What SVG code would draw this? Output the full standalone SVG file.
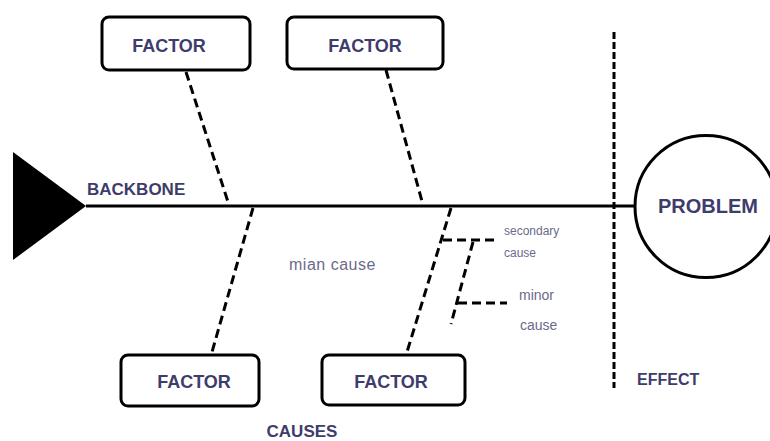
<svg xmlns="http://www.w3.org/2000/svg" width="770" height="441" viewBox="0 0 770 441">
<style>
.box{fill:#fff;stroke:#000;stroke-width:3}
.lbl{font-family:"Liberation Sans",Arial,sans-serif;font-weight:bold;fill:#3e3c6b}
.small{font-family:"Liberation Sans",Arial,sans-serif;fill:#6b6a8c}
.dash{stroke:#000;stroke-width:3;stroke-dasharray:9 5;fill:none}
.vdash{stroke:#000;stroke-width:3;stroke-dasharray:7 3;fill:none}
</style>
<rect width="770" height="441" fill="#fff"/>
<g id="connectors">
<line x1="86" y1="206" x2="637" y2="206" stroke="#000" stroke-width="3"/>
<line class="dash" x1="186" y1="72" x2="229" y2="205"/>
<line class="dash" x1="386" y1="70" x2="423" y2="205"/>
<line class="dash" x1="253" y1="208" x2="212" y2="352"/>
<line class="dash" x1="451" y1="208" x2="407" y2="352"/>
<line class="dash" x1="443" y1="240" x2="494" y2="240"/>
<line class="dash" x1="473" y1="242" x2="451" y2="324"/>
<line class="dash" x1="458" y1="303" x2="507" y2="303"/>
<line class="vdash" x1="614" y1="32" x2="614" y2="388"/>
</g>
<g id="head"><polygon points="13,152 86,206 13,260" fill="#000"/></g>
<g id="problem">
<circle cx="706" cy="206.5" r="71" fill="#fff" stroke="#000" stroke-width="3"/>
<text class="lbl" x="708" y="213" font-size="20" text-anchor="middle">PROBLEM</text>
</g>
<g id="factor1">
<rect class="box" x="102" y="17" width="148" height="53" rx="7"/>
<text class="lbl" x="169" y="52" font-size="18" text-anchor="middle">FACTOR</text>
</g>
<g id="factor2">
<rect class="box" x="287" y="17" width="156" height="52" rx="7"/>
<text class="lbl" x="365" y="52" font-size="18" text-anchor="middle">FACTOR</text>
</g>
<g id="factor3">
<rect class="box" x="121" y="355" width="138" height="51" rx="7"/>
<text class="lbl" x="194" y="388" font-size="18" text-anchor="middle">FACTOR</text>
</g>
<g id="factor4">
<rect class="box" x="322" y="355" width="143" height="50" rx="7"/>
<text class="lbl" x="391" y="388" font-size="18" text-anchor="middle">FACTOR</text>
</g>
<g id="labels">
<text class="lbl" x="87" y="195" font-size="17">BACKBONE</text>
<text class="lbl" x="637" y="385" font-size="16">EFFECT</text>
<text class="lbl" x="302" y="437" font-size="17" text-anchor="middle">CAUSES</text>
<text class="small" x="289" y="270" font-size="16" letter-spacing="0.5">mian cause</text>
<text class="small" x="504" y="235" font-size="12">secondary</text>
<text class="small" x="504" y="257" font-size="12">cause</text>
<text class="small" x="519" y="300" font-size="14">minor</text>
<text class="small" x="520" y="330" font-size="14">cause</text>
</g>
</svg>
